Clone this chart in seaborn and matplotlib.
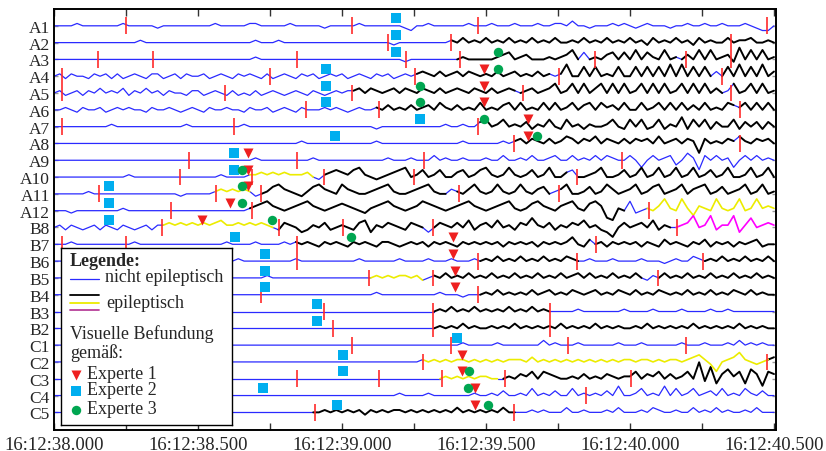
import numpy as np
import pandas as pd
import matplotlib
matplotlib.use("Agg")
import matplotlib.pyplot as plt
from matplotlib.ticker import FuncFormatter, MultipleLocator
import seaborn as sns

channels = ["A1", "A2", "A3", "A4", "A5", "A6", "A7", "A8", "A9", "A10", "A11", "A12",
            "B8", "B7", "B6", "B5", "B4", "B3", "B2", "C1", "C2", "C3", "C4", "C5"]

# traces: one sample every 20 ms from 16:12:38.000, char '4' = baseline of the row
t_start = 38.0
t_step = 0.02
waves = {
    "A1": "44445 44444 44544 44434 44444 44454 44445 54444 45444 44344 44454 44444 43244 54444 44544 "
          "45444 54445 44554 64434 44545 43454 44344 54454 45444 54322 4",
    "A2": "44444 44444 44444 54444 44444 44444 44444 54445 44444 44444 44444 44443 44444 44445 46454 "
          "64546 45464 54644 54645 46454 64536 45464 53645 44645 56445 4",
    "A3": "44444 44444 44444 44444 44444 44444 44444 54444 44444 44444 44444 44444 43444 44444 45444 "
          "44567 45644 45456 84745 46747 48475 48454 64848 45639 48484 5",
    "A4": "45354 43545 35345 43553 45354 45345 43545 43534 54354 53454 53454 35453 45456 54645 64654 "
          "54645 64546 45459 44848 45484 48484 84949 48484 64849 48494 6",
    "A5": "45345 35464 54635 46453 54435 53454 35343 53454 34543 54345 45564 65456 46546 54645 65465 "
          "46456 54564 56845 84846 84848 45848 48458 48484 64584 58484 5",
    "A6": "44543 54453 45454 43544 54345 43544 54435 44534 54354 44545 43454 45464 54645 64754 64547 "
          "45467 47454 74745 74674 75647 44745 74747 46474 54765 74747 4",
    "A7": "44444 44444 54444 44444 44454 44444 44454 44444 44444 44444 44444 43444 44444 44454 45446 "
          "74574 54635 47437 45354 45743 74734 73548 37473 64473 64636 4",
    "A8": "44444 44444 44444 44444 44444 44444 44444 44444 44454 44444 44444 45444 44444 44444 45444 "
          "44454 56465 46457 64657 46546 46564 74564 65064 54657 54656 4",
    "A9": "44444 44444 44444 44444 44444 44444 44444 54444 44444 54444 44444 44454 44544 46454 45444 "
          "54464 45464 45644 64546 46544 64146 45624 75064 64514 64645 4",
    "A10": "44444 44444 44454 44444 44444 44445 44445 56565 65556 43567 65785 43456 78457 45744 67457 "
           "85458 54574 58446 74456 84457 45845 84584 58457 45844 58458 4",
    "A11": "44444 45444 44444 44444 44344 44456 56565 34578 65435 78654 86544 56785 44567 85446 54685 "
           "45854 58546 74568 44574 58645 68457 84568 46784 57456 84584 5",
    "A12": "44434 44444 44544 44444 44444 44444 44445 67865 45678 65456 76543 56786 54568 76545 67865 "
           "45678 54578 65467 85478 61054 83454 69549 52654 95459 45956 5",
    "B8": "45354 34535 43543 45355 65656 56567 55656 56543 65423 54634 54367 25465 43654 24654 64735 "
          "64745 36585 46354 65745 32046 45647 35445 69459 35592 58456 5",
    "B7": "44454 44444 44445 44444 44444 44444 54444 54444 54545 43545 43545 43554 34545 35454 35454 "
          "54535 45453 54545 74364 53545 45354 36454 35463 54535 45634 4",
    "B6": "44444 44444 44444 44444 44444 44444 44544 44444 44544 44444 44454 44444 54444 54445 44454 "
          "54645 46454 64546 54454 44544 44544 43454 46545 46454 64546 4",
    "B5": "44444 44444 44444 44444 44444 44444 44444 44544 44444 44444 44444 45454 55453 45464 54645 "
          "46454 64546 45464 56464 54645 46435 46454 64546 45464 54645 4",
    "B4": "44444 44444 44444 44444 44444 44444 44444 44444 44444 44444 44444 45444 44444 44544 43444 "
          "54645 45464 56454 65456 45465 46454 65454 64546 45465 46454 4",
    "B3": "44444 44444 44444 44444 44444 44444 44444 44444 44444 44444 44444 44444 44444 44546 45464 "
          "54546 45464 54444 45444 44445 44445 44445 44445 44544 44444 4",
    "B2": "44444 44444 44444 44444 44444 44444 44444 44444 44444 44444 44444 44444 44444 44545 46454 "
          "45454 64545 45464 54546 45454 45464 54545 46454 54546 45454 4",
    "C1": "44444 44444 44444 44444 44444 44444 44444 44444 44444 44444 44444 44444 44444 44444 45444 "
          "44544 44444 64544 45444 44454 44544 44445 44454 44546 45454 4",
    "C2": "44444 44444 44444 44444 44444 44444 44444 44444 44444 44444 44444 44444 44445 45454 55454 "
          "54545 55464 54545 45454 54545 54554 54554 56753 04568 54345 6",
    "C3": "44444 44444 44444 44444 44444 44444 44444 44444 44444 44444 44444 44444 44444 44454 54545 "
          "54445 46574 76544 54645 46545 57465 74645 74b39 26857 28617 6",
    "C4": "44444 44444 44444 44444 44444 44444 44444 44444 44444 44444 44444 44444 54444 54444 44454 "
          "45464 45474 54644 74545 46484 45745 48474 57456 47454 75464 4",
    "C5": "44444 44444 44444 44444 44444 44444 44444 44444 44444 44545 45453 54545 54545 45454 64545 "
          "45464 44454 54446 44544 45464 44546 54454 46454 64544 54644 4",
}

# colour of each trace from the given time on: n = nicht epileptisch, k/y/m = epileptisch
segments = {
    "A1": [(38.0, "n")],
    "A2": [(38.0, "n"), (39.377, "k")],
    "A3": [(38.0, "n"), (39.409, "k"), (39.83, "n"), (39.86, "k"), (40.16, "n"), (40.19, "k")],
    "A4": [(38.0, "n"), (39.253, "k"), (39.72, "n"), (39.755, "k"), (40.28, "n"), (40.318, "k")],
    "A5": [(38.0, "n"), (39.034, "k"), (39.60, "n"), (39.627, "k"), (40.32, "n"), (40.35, "k")],
    "A6": [(38.0, "n"), (39.127, "k"), (40.35, "n"), (40.382, "k")],
    "A7": [(38.0, "n"), (39.473, "k")],
    "A8": [(38.0, "n"), (39.597, "k"), (40.35, "n"), (40.382, "k")],
    "A9": [(38.0, "n")],
    "A10": [(38.0, "n"), (38.689, "y"), (38.906, "n"), (38.939, "k"), (39.78, "n"), (39.815, "k")],
    "A11": [(38.0, "n"), (38.5625, "y"), (38.69, "n"), (38.718, "k"), (39.37, "n"), (39.407, "k"),
            (39.73, "n"), (39.753, "k")],
    "A12": [(38.0, "n"), (38.689, "k"), (39.98, "n"), (40.067, "y")],
    "B8": [(38.0, "n"), (38.374, "y"), (38.75, "n"), (38.782, "k"), (39.29, "n"), (39.315, "k"),
           (40.14, "n"), (40.162, "m")],
    "B7": [(38.0, "n"), (38.844, "k"), (39.85, "n"), (39.881, "k")],
    "B6": [(38.0, "n"), (39.473, "k"), (39.815, "n"), (40.255, "k")],
    "B5": [(38.0, "n"), (39.095, "y"), (39.28, "n"), (39.315, "k"), (40.05, "n"), (40.098, "k")],
    "B4": [(38.0, "n"), (39.473, "k")],
    "B3": [(38.0, "n"), (39.315, "k"), (39.722, "n")],
    "B2": [(38.0, "n"), (39.315, "k")],
    "C1": [(38.0, "n")],
    "C2": [(38.0, "n"), (39.282, "y"), (40.477, "k")],
    "C3": [(38.0, "n"), (39.346, "y"), (39.53, "n"), (39.566, "k")],
    "C4": [(38.0, "n")],
    "C5": [(38.0, "n"), (38.907, "k"), (39.598, "n")],
}

red_ticks = {
    "A1": [38.25, 39.034, 39.472, 40.476],
    "A2": [39.159, 39.377, 40.35],
    "A3": [38.154, 38.343, 38.844, 39.221, 39.409, 39.88, 40.194, 40.35],
    "A4": [38.029, 38.75, 39.253, 39.755, 40.318],
    "A5": [38.029, 38.594, 39.034, 39.627, 40.35],
    "A6": [38.876, 39.127, 40.382],
    "A7": [38.029, 38.625, 39.473],
    "A8": [39.597, 40.382],
    "A9": [38.469, 38.844, 39.285, 39.973],
    "A10": [38.4375, 38.689, 38.939, 39.251, 39.815],
    "A11": [38.156, 38.5625, 38.718, 39.407, 39.753],
    "A12": [38.405, 38.689, 40.067],
    "B8": [38.374, 38.782, 39.002, 39.315, 40.162],
    "B7": [38.029, 38.249, 38.844, 39.881],
    "B6": [38.844, 39.473, 39.815, 40.255],
    "B5": [39.095, 39.315, 40.098],
    "B4": [38.718, 39.473],
    "B3": [38.939, 39.315, 39.722],
    "B2": [38.97, 39.315, 39.722],
    "C1": [39.034, 39.377, 39.785, 40.193],
    "C2": [39.282, 40.477],
    "C3": [38.844, 39.127, 39.346, 39.566, 40.005],
    "C4": [39.847],
    "C5": [38.907, 39.598],
}

experte1 = {"A4": 39.493, "A5": 39.493, "A6": 39.493, "A7": 39.647, "A8": 39.647, "A9": 38.675,
            "A10": 38.675, "A11": 38.675, "A12": 38.611, "B8": 38.515, "B7": 39.387, "B6": 39.387,
            "B5": 39.392, "B4": 39.392, "C2": 39.418, "C3": 39.418, "C4": 39.462, "C5": 39.462}
experte2 = {"A1": 39.186, "A2": 39.186, "A3": 39.186, "A4": 38.943, "A5": 38.943, "A6": 38.943,
            "A7": 39.27, "A8": 38.976, "A9": 38.625, "A10": 38.625, "A11": 38.19, "A12": 38.19,
            "B8": 38.19, "B7": 38.63, "B6": 38.733, "B5": 38.733, "B4": 38.733, "B3": 38.912,
            "B2": 38.912, "C1": 39.398, "C2": 39.002, "C3": 39.002, "C4": 38.727, "C5": 38.981}
experte3 = {"A3": 39.54, "A4": 39.54, "A5": 39.27, "A6": 39.27, "A7": 39.493, "A8": 39.677,
            "A10": 38.652, "A11": 38.652, "A12": 38.652, "B8": 38.758, "B7": 39.03,
            "C3": 39.441, "C4": 39.439, "C5": 39.508}

n_samples = 126
amp = 0.14

pal = {"n": "#2a2aff", "k": "#000000", "y": "#ecec00", "m": "#ff00ff"}
widths = {"n": 0.9, "k": 1.4, "y": 1.2, "m": 1.2}

# build long table of trace pieces
row_of = {ch: i + 1 for i, ch in enumerate(channels)}
recs = []
seg_id = 0
for ch in channels:
    s = waves[ch].replace(" ", "")
    s = (s + "4" * n_samples)[:n_samples]
    vals = (np.array([int(c, 36) for c in s]) - 4) * amp
    tt = t_start + t_step * np.arange(n_samples)
    yy = row_of[ch] - vals
    segs = segments[ch]
    for k, (ts, kind) in enumerate(segs):
        te = segs[k + 1][0] if k + 1 < len(segs) else 40.5
        i0 = int(round((ts - t_start) / t_step))
        i1 = min(int(round((te - t_start) / t_step)), n_samples - 1)
        for i in range(i0, i1 + 1):
            recs.append((seg_id, kind, tt[i], yy[i]))
        seg_id += 1
df = pd.DataFrame(recs, columns=["seg", "kind", "t", "y"])

sns.set_theme(style="ticks")
plt.rcParams["font.family"] = ["Liberation Serif", "DejaVu Serif"]

fig = plt.figure(figsize=(8.26, 4.52), dpi=100)
ax = fig.add_axes([54 / 826, 21 / 452, 722 / 826, 421.5 / 452])

sns.lineplot(data=df, x="t", y="y", hue="kind", size="kind", units="seg", estimator=None,
             sort=False, palette=pal, sizes=widths, legend=False, ax=ax)

for ch, ts in red_ticks.items():
    r = row_of[ch]
    ax.vlines(ts, r - 0.5, r + 0.5, color="#ff2a2a", lw=1.2, zorder=4)

off = 0.44
sns.scatterplot(x=list(experte2.values()), y=[row_of[c] - off for c in experte2],
                marker="s", s=44, color="#00aeef", linewidth=0, ax=ax, zorder=5)
sns.scatterplot(x=list(experte1.values()), y=[row_of[c] - off for c in experte1],
                marker="v", s=52, color="#ee2020", linewidth=0, ax=ax, zorder=6)
sns.scatterplot(x=list(experte3.values()), y=[row_of[c] - off for c in experte3],
                marker="o", s=46, color="#00a651", linewidth=0, ax=ax, zorder=7)

ax.set_xlim(38.0, 40.507)
ax.set_ylim(25.05, -0.03)
ax.set_yticks(range(1, len(channels) + 1))
ax.set_yticklabels(channels)
ax.xaxis.set_major_locator(MultipleLocator(0.25))
ax.xaxis.set_major_formatter(FuncFormatter(
    lambda x, p: f"16:12:{x:06.3f}" if abs(x * 2 - round(x * 2)) < 1e-6 else ""))
ax.set_xlabel("")
ax.set_ylabel("")
ax.tick_params(axis="x", direction="in", top=True, bottom=True, length=5, width=1,
               color="#333333", labelsize=13.5, pad=4)
ax.tick_params(axis="y", direction="in", left=True, right=True, length=3, width=1,
               color="#999999", labelsize=12.5, pad=3)
for sp in ax.spines.values():
    sp.set_color("black")
    sp.set_linewidth(1.4)

# legend box
lax = fig.add_axes([61 / 826, 26 / 452, 171 / 826, 177 / 452])
lax.set_xlim(0, 171)
lax.set_ylim(177, 0)
lax.set_xticks([])
lax.set_yticks([])
lax.set_facecolor("white")
for sp in lax.spines.values():
    sp.set_color("black")
    sp.set_linewidth(1.0)
fs = 13
lax.text(9, 13, "Legende:", fontsize=fs, fontweight="bold", va="center")
lax.plot([9, 38], [31, 31], color=pal["n"], lw=0.9)
lax.text(44, 29, "nicht epileptisch", fontsize=fs, va="center")
lax.plot([9, 38], [47, 47], color="black", lw=1.3)
lax.plot([9, 38], [54.5, 54.5], color=pal["y"], lw=1.3)
lax.plot([9, 38], [62, 62], color="#b8409a", lw=1.3)
lax.text(45, 54, "epileptisch", fontsize=fs, va="center")
lax.text(9, 85, "Visuelle Befundung", fontsize=fs, va="center")
lax.text(9, 104, "gemäß:", fontsize=fs, va="center")
lax.scatter([15], [127], marker="v", s=52, color="#ee2020", linewidth=0)
lax.text(26, 126, "Experte 1", fontsize=fs, va="center")
lax.scatter([15], [143], marker="s", s=44, color="#00aeef", linewidth=0)
lax.text(26, 142, "Experte 2", fontsize=fs, va="center")
lax.scatter([15], [162], marker="o", s=46, color="#00a651", linewidth=0)
lax.text(26, 161, "Experte 3", fontsize=fs, va="center")

fig.savefig("out.png", dpi=100)
